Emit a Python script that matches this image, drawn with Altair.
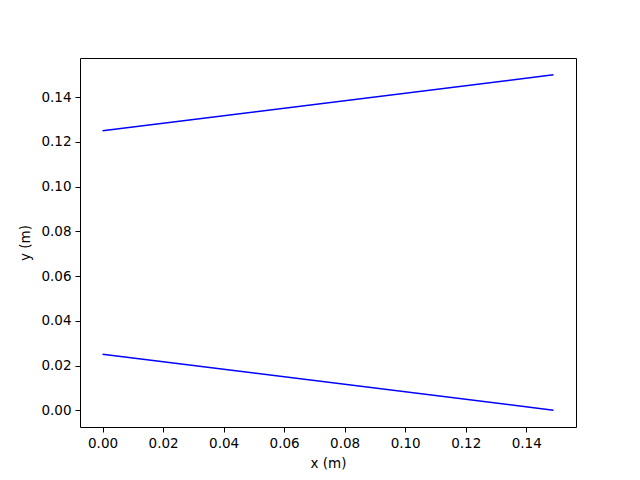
import altair as alt
import pandas as pd

# Two straight lines (endpoints)
upper_x = [0.0, 0.149]
upper_y = [0.125, 0.15]
lower_x = [0.0, 0.149]
lower_y = [0.025, 0.0]

df = pd.DataFrame({
    "x": upper_x + lower_x,
    "y": upper_y + lower_y,
    "line": ["upper"] * len(upper_x) + ["lower"] * len(lower_x),
})

x_ticks = [0.0, 0.02, 0.04, 0.06, 0.08, 0.10, 0.12, 0.14]
y_ticks = [0.0, 0.02, 0.04, 0.06, 0.08, 0.10, 0.12, 0.14]

xmin, xmax = 0.0, 0.149
ymin, ymax = 0.0, 0.15
xm = (xmax - xmin) * 0.05
ym = (ymax - ymin) * 0.05

axis_common = dict(
    grid=False,
    domain=False,
    tickColor="black",
    tickSize=5,
    tickWidth=1,
    labelColor="black",
    labelFont="DejaVu Sans",
    labelFontSize=13.5,
    labelPadding=4,
    titleFont="DejaVu Sans",
    titleFontSize=13.5,
    titleFontWeight="normal",
    titleColor="black",
    format=".2f",
)

chart = alt.Chart(df).mark_line(color="#0000ff", strokeWidth=1.5).encode(
    x=alt.X("x:Q", title="x (m)",
            scale=alt.Scale(domain=[xmin - xm, xmax + xm], nice=False, zero=False),
            axis=alt.Axis(values=x_ticks, titlePadding=7, **axis_common)),
    y=alt.Y("y:Q", title="y (m)",
            scale=alt.Scale(domain=[ymin - ym, ymax + ym], nice=False, zero=False),
            axis=alt.Axis(values=y_ticks, titlePadding=8, **axis_common)),
    detail="line:N",
).properties(
    width=496,
    height=369,
    background="white",
    autosize=alt.AutoSizeParams(type="none"),
    padding={"left": 72, "top": 50, "right": 56, "bottom": 45},
).configure_view(
    stroke="black",
    strokeWidth=1,
)

chart.save("out.html", embed_options={"renderer": "svg", "actions": False})
